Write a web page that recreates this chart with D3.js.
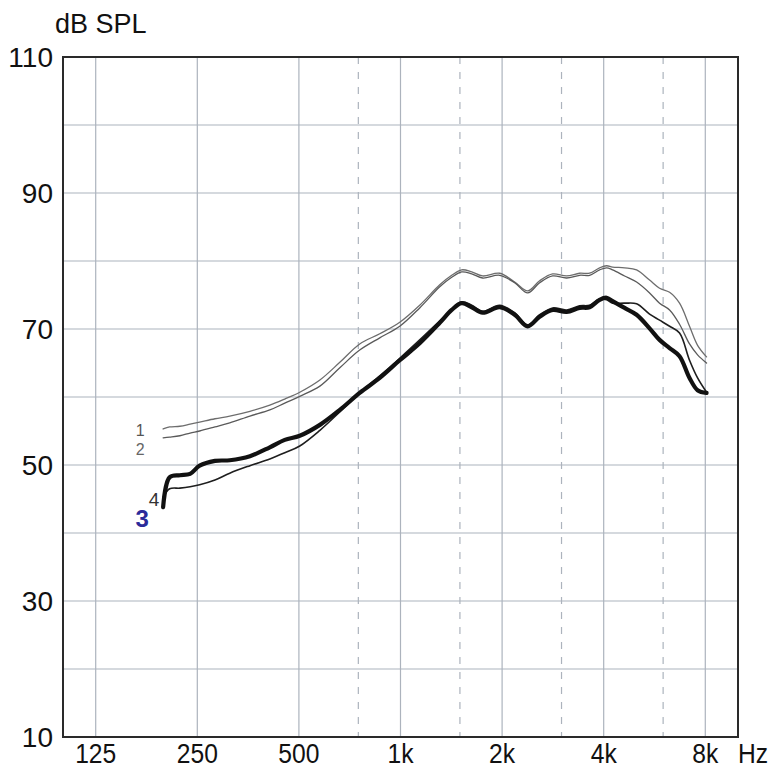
<!DOCTYPE html>
<html>
<head>
<meta charset="utf-8">
<script src="https://cdn.jsdelivr.net/npm/d3@7"></script>
<style>
  html, body { margin: 0; padding: 0; background: #fff; }
  svg { display: block; }
  text { font-family: "Liberation Sans", Arial, sans-serif; }
</style>
</head>
<body>
<svg id="chart" width="774" height="776"></svg>
<script>
// ---- data ----
const freqs = [198, 207, 222, 238, 254, 282, 312, 358, 410, 454, 503, 577, 661, 757, 868, 995,
  1140, 1307, 1418, 1518, 1626, 1752, 1967, 2179, 2382, 2584, 2824, 3106, 3394, 3633, 3890,
  4080, 4250, 4613, 5006, 5470, 5856, 6270, 6711, 7184, 7590, 8068];

const curve1 = [55.3, 55.6, 55.7, 56.0, 56.3, 56.8, 57.2, 57.9, 58.8, 59.7, 60.7, 62.5, 65.1, 67.8, 69.3, 71.0,
  73.5, 76.5, 77.9, 78.7, 78.4, 77.8, 78.2, 76.9, 75.6, 77.1, 78.1, 77.8, 78.2, 78.2, 79.0,
  79.3, 79.1, 79.0, 78.7, 77.2, 76.0, 75.4, 73.8, 70.4, 67.6, 65.9];

const curve2 = [54.0, 54.1, 54.3, 54.7, 55.0, 55.6, 56.2, 57.2, 58.1, 59.1, 60.1, 61.6, 64.3, 66.9, 68.7, 70.4,
  73.1, 76.2, 77.6, 78.4, 78.1, 77.5, 77.9, 76.8, 75.3, 76.8, 77.8, 77.5, 77.9, 77.9, 78.7,
  79.0, 78.7, 77.8, 76.9, 75.3, 73.8, 72.8, 70.7, 67.8, 66.2, 65.0];

const curve3 = [43.8, 48.2, 48.5, 48.7, 49.9, 50.6, 50.7, 51.3, 52.6, 53.7, 54.3, 55.9, 58.1, 60.6, 62.8, 65.4,
  67.9, 70.9, 72.8, 73.8, 73.2, 72.4, 73.2, 72.1, 70.4, 71.8, 72.8, 72.5, 73.1, 73.2, 74.3,
  74.6, 74.1, 73.1, 72.1, 70.1, 68.4, 67.2, 66.0, 62.8, 61.0, 60.6];

const curve4 = [45.3, 46.5, 46.6, 46.8, 47.1, 47.8, 48.8, 49.9, 50.9, 51.8, 52.8, 55.1, 57.8, 60.6, 63.1, 65.7,
  68.4, 71.2, 72.9, 74.0, 73.5, 72.6, 73.5, 72.4, 70.6, 72.1, 73.1, 72.8, 73.4, 73.5, 74.4,
  74.3, 73.8, 73.8, 73.7, 72.2, 71.3, 70.4, 69.4, 65.4, 62.8, 60.7];

const octaveTicks = [125, 250, 500, 1000, 2000, 4000, 8000];
const octaveLabels = ["125", "250", "500", "1k", "2k", "4k", "8k"];
const halfTicks = [750, 1500, 3000, 6000];
const dbGrid = [10, 20, 30, 40, 50, 60, 70, 80, 90, 100, 110];
const dbLabels = [10, 30, 50, 70, 90, 110];

const seriesNames = ["1", "2", "3", "4"];

// ---- layout ----
const svg = d3.select("#chart");
const pLeft = 63, pRight = 738, pTop = 57, pBottom = 737;

const x = d3.scaleLog().domain([100, 10000]).range([pLeft, pRight]);
const y = d3.scaleLinear().domain([10, 110]).range([pBottom, pTop]);

const gridColor = "#acb3bd";

// horizontal grid
svg.append("g").selectAll("line").data(dbGrid).join("line")
  .attr("x1", pLeft).attr("x2", pRight)
  .attr("y1", d => y(d)).attr("y2", d => y(d))
  .attr("stroke", gridColor).attr("stroke-width", 1.2);

// vertical octave grid
svg.append("g").selectAll("line").data(octaveTicks).join("line")
  .attr("x1", d => x(d)).attr("x2", d => x(d))
  .attr("y1", pTop).attr("y2", pBottom)
  .attr("stroke", gridColor).attr("stroke-width", 1.2);

// dashed half-octave grid
svg.append("g").selectAll("line").data(halfTicks).join("line")
  .attr("x1", d => x(d)).attr("x2", d => x(d))
  .attr("y1", pTop).attr("y2", pBottom)
  .attr("stroke", gridColor).attr("stroke-width", 1.2)
  .attr("stroke-dasharray", "7,8");

// frame
svg.append("rect")
  .attr("x", pLeft).attr("y", pTop)
  .attr("width", pRight - pLeft).attr("height", pBottom - pTop)
  .attr("fill", "none").attr("stroke", "#2a2a2a").attr("stroke-width", 2);

// curves
const line = d3.line()
  .defined(d => d[1] != null)
  .x(d => x(d[0])).y(d => y(d[1]))
  .curve(d3.curveCatmullRom.alpha(0.5));

const styles = [
  { data: curve1, stroke: "#6d6d6d", width: 1.3 },
  { data: curve2, stroke: "#5a5a5a", width: 1.3 },
  { data: curve4, stroke: "#1e1e1e", width: 1.6 },
  { data: curve3, stroke: "#111111", width: 4.2 }
];
styles.forEach(s => {
  svg.append("path")
    .datum(freqs.map((f, i) => [f, s.data[i]]))
    .attr("d", line)
    .attr("fill", "none")
    .attr("stroke", s.stroke)
    .attr("stroke-width", s.width)
    .attr("stroke-linejoin", "round")
    .attr("stroke-linecap", "round");
});

// curve labels
const f0 = freqs[0];
svg.append("text").text(seriesNames[0])
  .attr("x", x(f0) - 23).attr("y", y(curve1[0]) + 7)
  .attr("font-size", 16).attr("fill", "#555").attr("text-anchor", "middle");
svg.append("text").text(seriesNames[1])
  .attr("x", x(f0) - 23).attr("y", y(curve2[0]) + 17)
  .attr("font-size", 16).attr("fill", "#666").attr("text-anchor", "middle");
svg.append("text").text(seriesNames[3])
  .attr("x", x(f0) - 9).attr("y", y(curve4[0]) + 9)
  .attr("font-size", 19).attr("fill", "#333").attr("text-anchor", "middle");
svg.append("text").text(seriesNames[2])
  .attr("x", x(f0) - 21).attr("y", y(curve3[0]) + 20)
  .attr("font-size", 24).attr("font-weight", "bold").attr("fill", "#2b2b9a")
  .attr("text-anchor", "middle");

// y axis labels
svg.append("g").selectAll("text").data(dbLabels).join("text")
  .attr("x", 53).attr("y", d => y(d) + 10)
  .attr("text-anchor", "end")
  .attr("font-size", 28).attr("fill", "#111")
  .text(d => d);

// x axis labels
svg.append("g").selectAll("text").data(octaveTicks).join("text")
  .attr("transform", d => `translate(${x(d)},763) scale(0.88,1)`)
  .attr("text-anchor", "middle")
  .attr("font-size", 28).attr("fill", "#111")
  .text((d, i) => octaveLabels[i]);

svg.append("text")
  .attr("transform", `translate(753,763) scale(0.88,1)`)
  .attr("text-anchor", "middle")
  .attr("font-size", 28).attr("fill", "#111")
  .text("Hz");

svg.append("text")
  .attr("x", 55).attr("y", 33)
  .attr("font-size", 27).attr("fill", "#111")
  .text("dB SPL");
</script>
</body>
</html>
